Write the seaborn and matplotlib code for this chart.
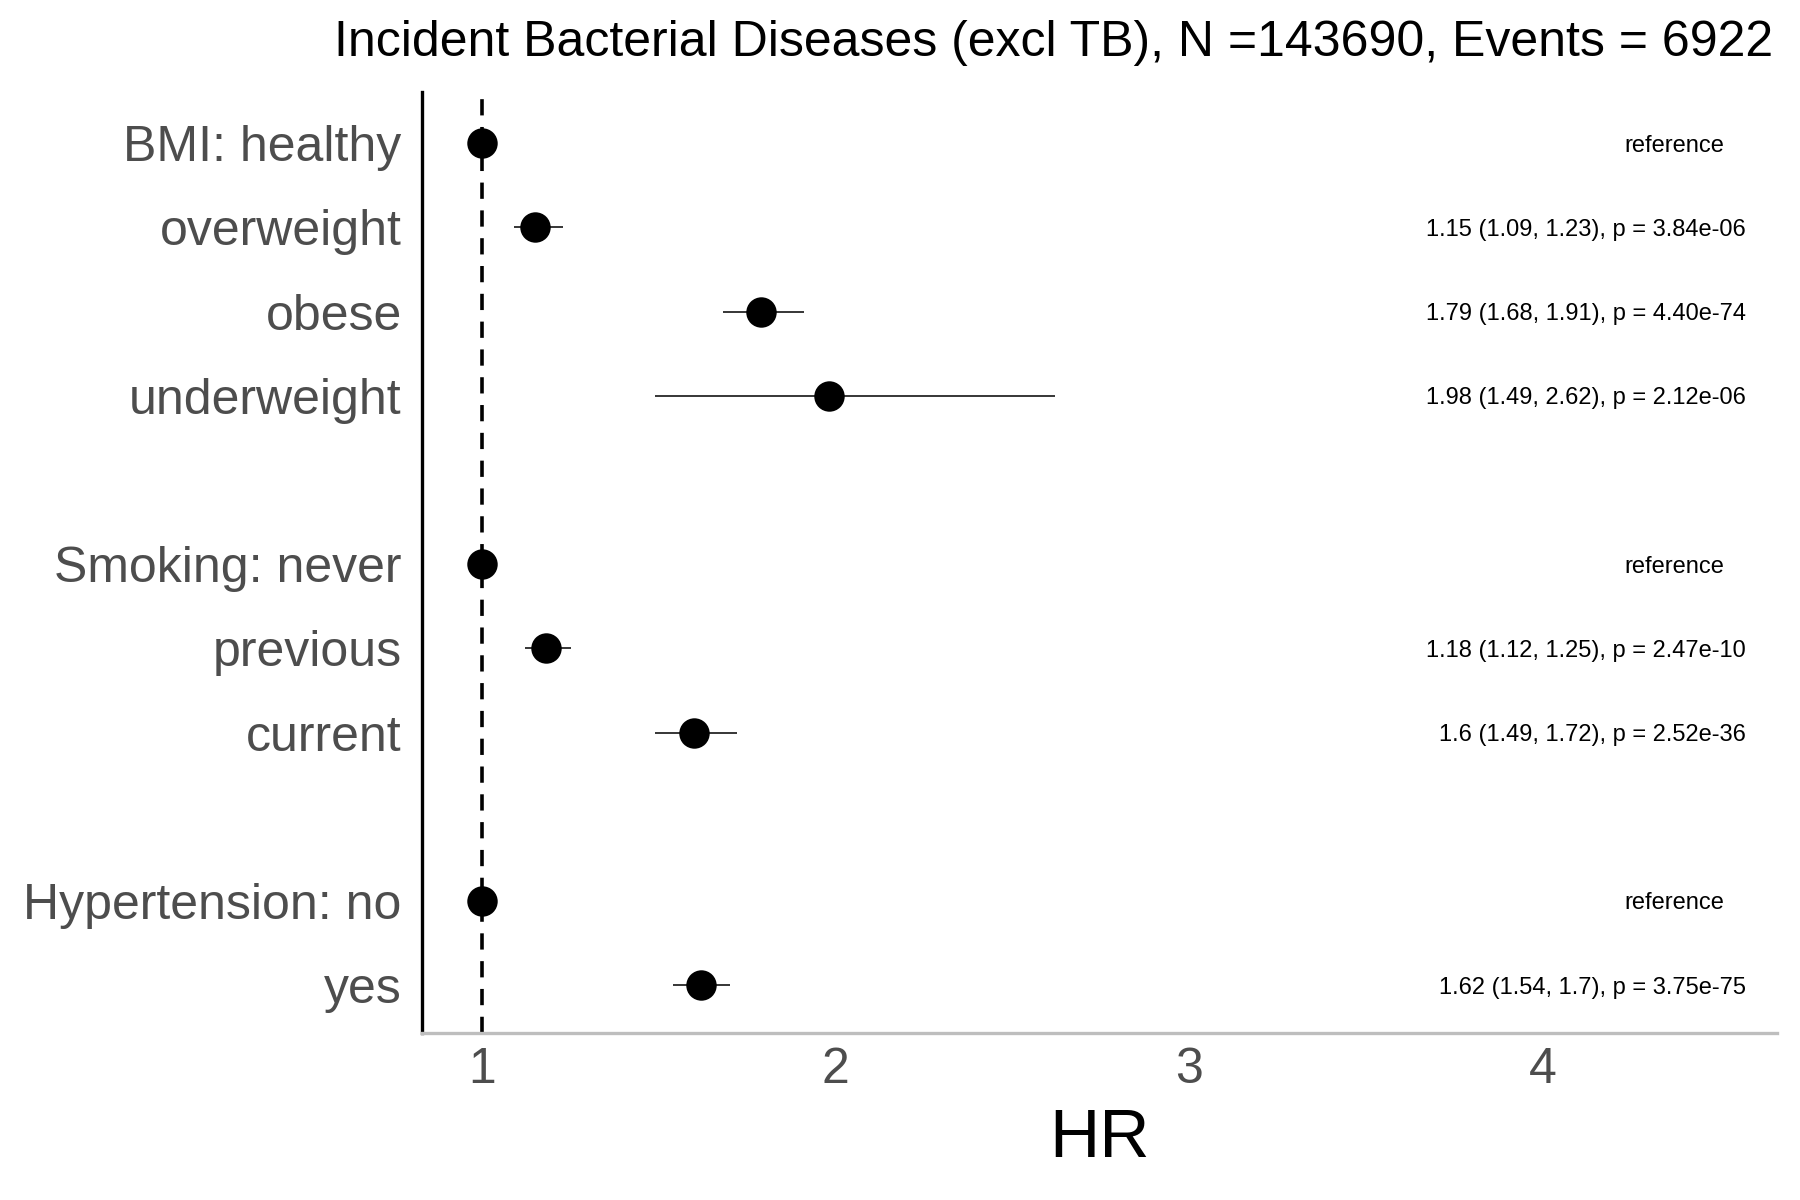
import seaborn as sns
import matplotlib.pyplot as plt
import pandas as pd

# Data for the forest plot
groups = [
    ["BMI: healthy", "overweight", "obese", "underweight"],
    ["Smoking: never", "previous", "current"],
    ["Hypertension: no", "yes"],
]
hr = [1.0, 1.15, 1.79, 1.98, 1.0, 1.18, 1.6, 1.0, 1.62]
lower = [1.0, 1.09, 1.68, 1.49, 1.0, 1.12, 1.49, 1.0, 1.54]
upper = [1.0, 1.23, 1.91, 2.62, 1.0, 1.25, 1.72, 1.0, 1.7]
notes = [
    "reference",
    "1.15 (1.09, 1.23), p = 3.84e-06",
    "1.79 (1.68, 1.91), p = 4.40e-74",
    "1.98 (1.49, 2.62), p = 2.12e-06",
    "reference",
    "1.18 (1.12, 1.25), p = 2.47e-10",
    "1.6 (1.49, 1.72), p = 2.52e-36",
    "reference",
    "1.62 (1.54, 1.7), p = 3.75e-75",
]
xticks = [1, 2, 3, 4]

# one empty row between groups
labels, rows = [], []
pos = 0
for g in groups:
    for lab in g:
        labels.append(lab)
        rows.append(pos)
        pos += 1
    pos += 1

df = pd.DataFrame({"label": labels, "row": rows, "hr": hr,
                   "lower": lower, "upper": upper, "note": notes})

sns.set_theme(style="white")
plt.rcParams["font.family"] = ["Liberation Sans", "DejaVu Sans"]

fig = plt.figure(figsize=(18, 12), dpi=100)
ax = fig.add_axes([0.2347, 0.139, 0.7523, 0.7845])

ax.axvline(1, color="black", linestyle=(0, (4.5, 3.2)), linewidth=2.6, zorder=1)
ax.hlines(df["row"], df["lower"], df["upper"], color="black", linewidth=1.1, zorder=2)
sns.scatterplot(data=df, x="hr", y="row", s=480, color="black",
                edgecolor="black", linewidth=0, ax=ax, zorder=3, legend=False)

for _, r in df.iterrows():
    xr = 4.513 if r["note"] == "reference" else 4.575
    ax.text(xr, r["row"], r["note"], ha="right", va="center_baseline",
            fontsize=17, color="black")

ax.set_xlim(0.831, 4.662)
ax.set_ylim(10.57, -0.61)
ax.set_yticks(df["row"])
ax.set_yticklabels(df["label"], fontsize=36, color="#4D4D4D")
ax.set_xticks(xticks)
ax.set_xticklabels([str(t) for t in xticks], fontsize=36, color="#4D4D4D")
ax.tick_params(axis="x", length=0, pad=10)
ax.tick_params(axis="y", length=0, pad=15)

ax.set_xlabel("HR", fontsize=50, color="black", labelpad=10)
ax.set_ylabel("")

for s in ["top", "right"]:
    ax.spines[s].set_visible(False)
ax.spines["left"].set_color("black")
ax.spines["left"].set_linewidth(2.4)
ax.spines["bottom"].set_color("#BEBEBE")
ax.spines["bottom"].set_linewidth(2.4)

fig.text(0.985, 0.953, "Incident Bacterial Diseases (excl TB), N =143690, Events = 6922",
         ha="right", va="baseline", fontsize=36, color="black")

fig.savefig("out.png", dpi=100, facecolor="white")
